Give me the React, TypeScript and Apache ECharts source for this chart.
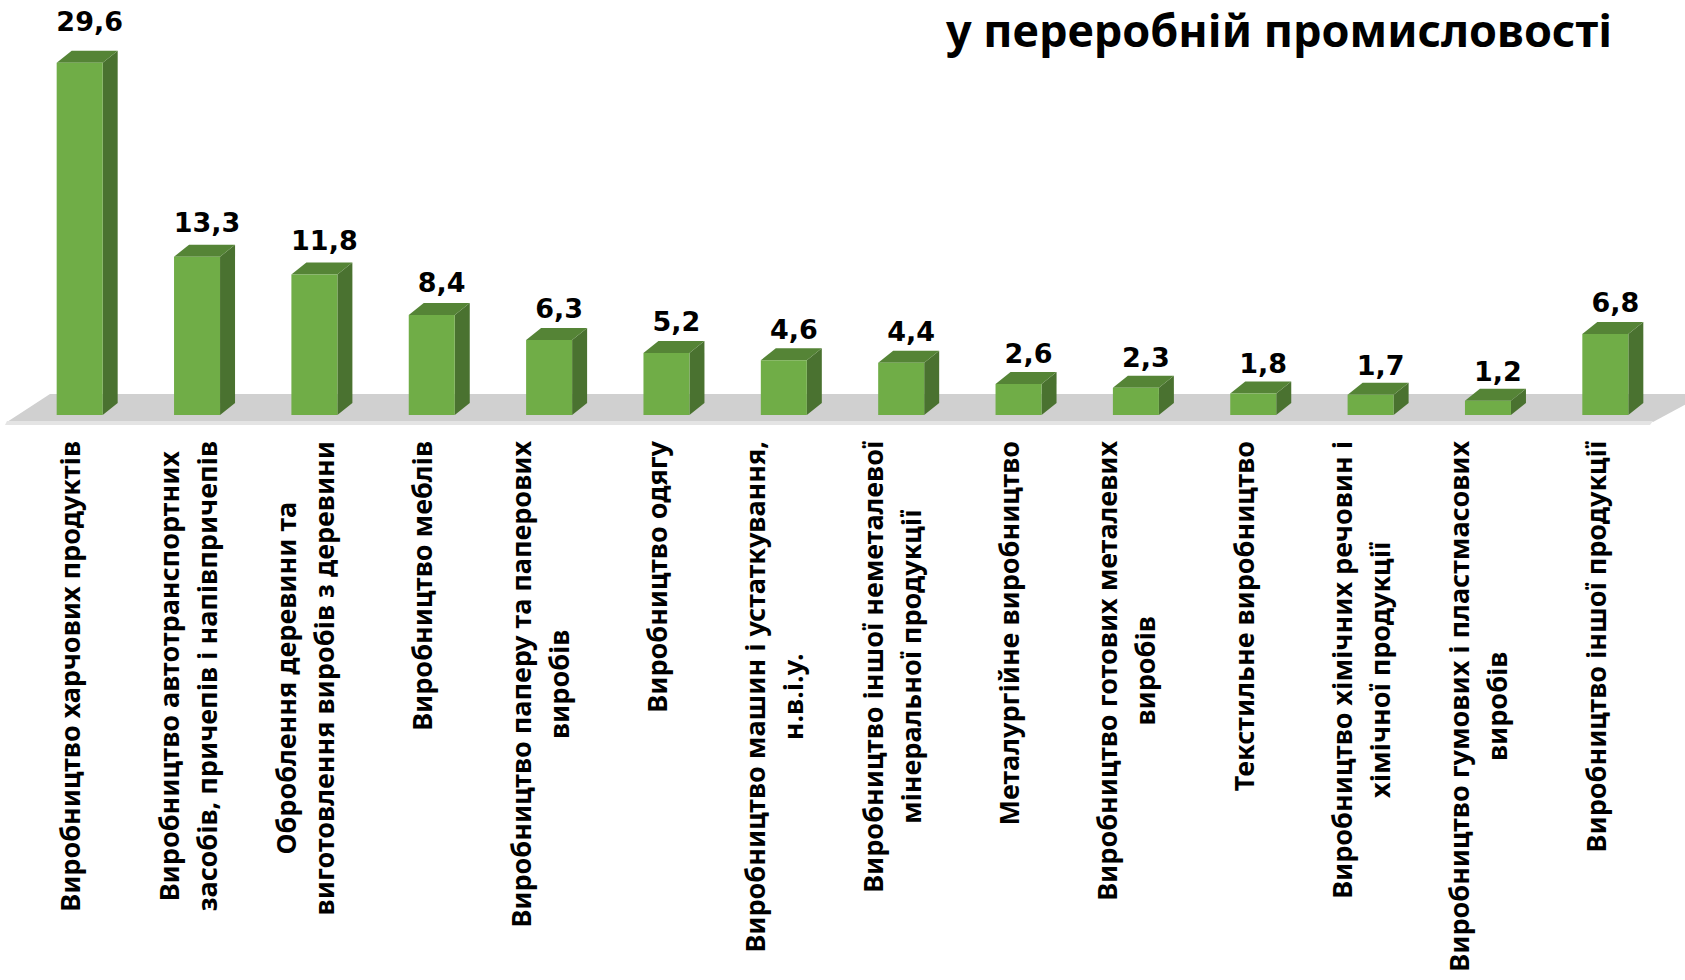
import React, { useEffect, useRef } from 'react';
import * as echarts from 'echarts';

const titleText = 'у переробній промисловості';

const categories = [
  'Виробництво харчових продуктів',
  'Виробництво автотранспортних\nзасобів, причепів і напівпричепів',
  'Оброблення деревини та\nвиготовлення виробів з деревини',
  'Виробництво меблів',
  'Виробництво паперу та паперових\nвиробів',
  'Виробництво одягу',
  'Виробництво машин і устаткування,\nн.в.і.у.',
  'Виробництво іншої неметалевої\nмінеральної продукції',
  'Металургійне виробництво',
  'Виробництво готових металевих\nвиробів',
  'Текстильне виробництво',
  'Виробництво хімічних речовин і\nхімічної продукції',
  'Виробництво гумових і пластмасових\nвиробів',
  'Виробництво іншої продукції',
];

const values = [29.6, 13.3, 11.8, 8.4, 6.3, 5.2, 4.6, 4.4, 2.6, 2.3, 1.8, 1.7, 1.2, 6.8];

const BAR_W = 46;
const DX = 15;
const DY = 12;
const OFF = 10;

export default function App() {
  const ref = useRef<HTMLDivElement>(null);
  useEffect(() => {
    const chart = echarts.init(ref.current as HTMLDivElement, null, { renderer: 'svg' });
    const option: any = {
      animation: false,
      backgroundColor: '#ffffff',
      title: {
        text: titleText,
        right: 73,
        top: 7,
        padding: 0,
        textStyle: { fontFamily: 'Noto Sans', fontWeight: 'bold', fontSize: 45, color: '#000' },
      },
      grid: { left: 11, right: 31, top: 58, bottom: 565, containLabel: false, outerBoundsMode: 'none' },
      xAxis: {
        type: 'category',
        data: categories,
        axisLine: { show: false },
        axisTick: { show: false },
        splitLine: { show: false },
        axisLabel: {
          interval: 0,
          rotate: 90,
          margin: 26,
          fontFamily: 'Noto Sans',
          fontWeight: 'bold',
          fontSize: 27,
          lineHeight: 38,
          color: '#000',
          formatter: (v: string) => v.split('\n').map((l) => '{c|' + l + '}').join('\n'),
          rich: {
            c: {
              align: 'center',
              fontFamily: 'Noto Sans',
              fontWeight: 'bold',
              fontSize: 27,
              lineHeight: 38,
              color: '#000',
            },
          },
        },
      },
      yAxis: { type: 'value', min: 0, max: 30, show: false, splitLine: { show: false } },
      graphic: [
        {
          type: 'polygon',
          z: -10,
          shape: { points: [[50, 394], [1705, 394], [1653, 422], [7, 422]] },
          style: { fill: '#d0d0d0' },
        },
        {
          type: 'polygon',
          z: -10,
          shape: { points: [[7, 421], [1653, 421], [1650, 425], [5, 425]] },
          style: { fill: '#e4e4e4' },
        },
      ],
      series: [
        {
          type: 'custom',
          z: 5,
          data: values.map((v, i) => [i, v]),
          renderItem: (params: any, api: any) => {
            const i = api.value(0);
            const v = api.value(1);
            const top = api.coord([i, v]);
            const base = api.coord([i, 0]);
            const x0 = top[0] + OFF - BAR_W / 2;
            const x1 = x0 + BAR_W;
            const yT = top[1];
            const yB = base[1];
            const h = yB - yT;
            return {
              type: 'group',
              children: [
                {
                  type: 'polygon',
                  shape: { points: [[x1, yT], [x1 + DX, yT - DY], [x1 + DX, yB - DY], [x1, yB]] },
                  style: { fill: '#4a7230' },
                },
                {
                  type: 'polygon',
                  shape: { points: [[x0, yT], [x0 + DX, yT - DY], [x1 + DX, yT - DY], [x1, yT]] },
                  style: { fill: '#558436' },
                },
                {
                  type: 'rect',
                  shape: { x: x0, y: yT, width: BAR_W, height: h },
                  style: { fill: '#70ad47' },
                },
                {
                  type: 'text',
                  x: top[0] + 20,
                  y: yT - (29 + 0.035 * h),
                  style: {
                    text: v.toFixed(1).replace('.', ','),
                    fill: '#000',
                    fontFamily: 'DejaVu Sans',
                    fontWeight: 'bold',
                    fontSize: 27,
                    align: 'center',
                    verticalAlign: 'middle',
                  },
                },
              ],
            };
          },
        },
      ],
    };
    chart.setOption(option);
    return () => chart.dispose();
  }, []);
  return (
    <div
      ref={ref}
      style={{ position: 'absolute', left: 0, top: 0, width: 1685, height: 980 }}
    />
  );
}
